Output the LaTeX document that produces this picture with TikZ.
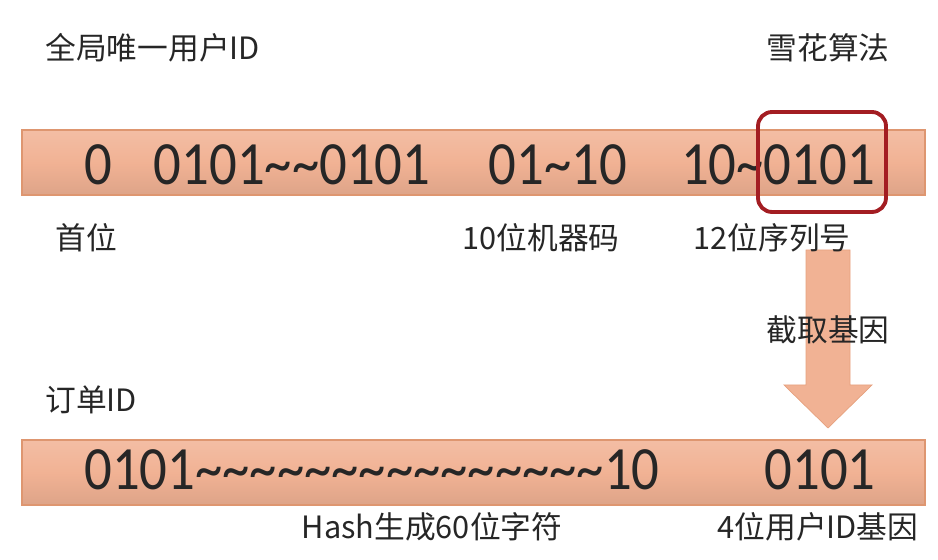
\documentclass[tikz,border=0pt]{standalone}
\usepackage{fontspec}
\setmainfont{Noto Sans CJK SC}
\newfontfamily\digitfont[FakeStretch=0.89]{Carlito}
\usepackage{tikz}
\usetikzlibrary{calc,positioning}
\definecolor{peach}{RGB}{241,178,148}
\definecolor{peachedge}{RGB}{222,150,112}
\definecolor{genered}{RGB}{163,29,34}
\definecolor{labelgray}{RGB}{38,38,38}
\tikzset{
	idbar/.style={
		draw=peachedge, thick, rectangle, inner sep=0pt,
		minimum width=18.06cm, minimum height=1.3cm,
		top color=peach!85!white, bottom color=peach!92!black, middle color=peach
	},
	bits/.style={inner sep=0pt, text=black!85, font=\digitfont\fontsize{35}{38}\selectfont},
	caption/.style={inner sep=0pt, text=labelgray, font=\fontsize{17.5}{20}\selectfont},
	genebox/.style={
		draw=genered, line width=2.2pt, rounded corners=8pt,
		minimum width=2.56cm, minimum height=2cm
	},
	genearrow/.style={fill=peach, draw=peachedge!60!peach, thin}
}
\begin{document}
\begin{tikzpicture}[x=0.02cm,y=-0.02cm]
	\useasboundingbox (0,0) rectangle (938,560);
	\node[idbar] (userbar) at (473.5,162.5) {};
	\node[idbar] (orderbar) at (473.5,472.5) {};
	\coordinate (shafttop) at (828,250);
	\coordinate (tip) at (828,428);
	\draw[genearrow] ($(shafttop)+(-22,0)$) -- ($(shafttop)+(22,0)$) -- ($(tip)+(22,-43)$)
		-- ($(tip)+(44,-43)$) -- (tip) -- ($(tip)+(-44,-43)$) -- ($(tip)+(-22,-43)$) -- cycle;
	\node[caption,anchor=west] (userid) at (45,48) {全局唯一用户ID};
	\node[caption] (snowflake) at (828,48) {雪花算法};
	\node[bits] (sign) at (98,165) {0};
	\node[bits] (time) at (292,165) {0101\textasciitilde\textasciitilde0101};
	\node[bits] (machine) at (558,165) {01\textasciitilde10};
	\node[bits] (seq) at (778,165) {10\textasciitilde0101};
	\node[caption,anchor=west] (signlbl) at (55,238) {首位};
	\node[caption] (machinelbl) at (541,238) {10位机器码};
	\node[caption] (seqlbl) at (772,238) {12位序列号};
	\node[genebox] (gene) at (822,162) {};
	\node[caption] (cut) at (828,330) {截取基因};
	\node[caption,anchor=west] (orderid) at (45,400) {订单ID};
	\node[bits,anchor=west] (hashbits) at (84,470)
		{0101\textasciitilde\textasciitilde\textasciitilde\textasciitilde\textasciitilde\textasciitilde\textasciitilde\textasciitilde\textasciitilde\textasciitilde\textasciitilde\textasciitilde\textasciitilde\textasciitilde\textasciitilde10};
	\node[bits] (genebits) at (820,470) {0101};
	\node[caption] (hashlbl) at (432,527) {Hash生成60位字符};
	\node[caption] (genelbl) at (818,527) {4位用户ID基因};
\end{tikzpicture}
\end{document}
